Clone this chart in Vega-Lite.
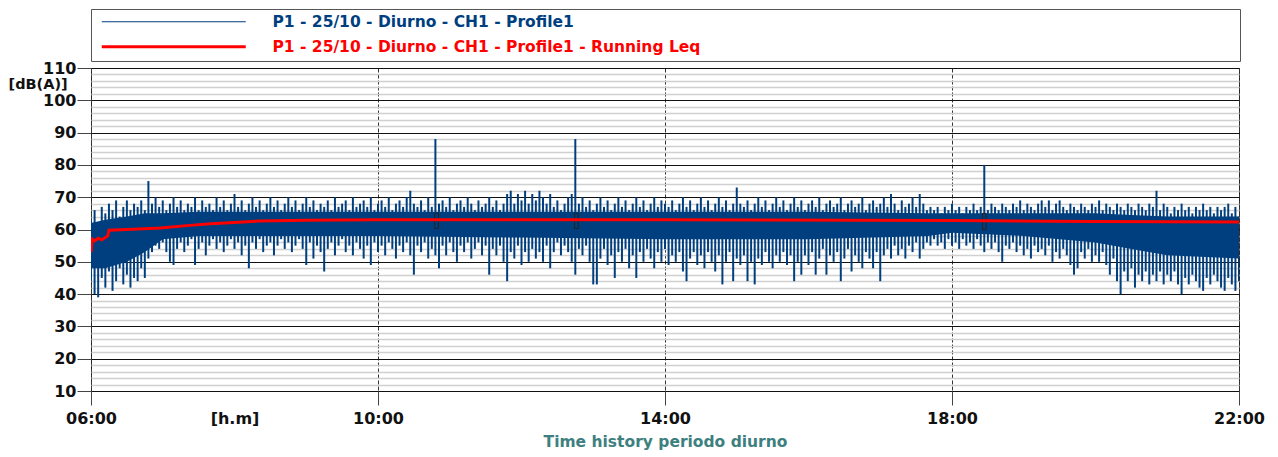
{
"$schema": "https://vega.github.io/schema/vega-lite/v6.json",
"width": 1148, "height": 323,
"autosize": "none",
"padding": {"left": 91, "top": 68, "right": 39, "bottom": 66},
"background": "white",
"config": {"view": {"stroke": "#222", "strokeWidth": 1}, "font": "DejaVu Sans"},
"datasets": {
"core": [{"m":360,"clo":48,"chi":62},{"m":372,"clo":48,"chi":63},{"m":390,"clo":50,"chi":64},{"m":405,"clo":53,"chi":65},{"m":420,"clo":57,"chi":65},{"m":450,"clo":58,"chi":65.5},{"m":600,"clo":58,"chi":65.5},{"m":720,"clo":57.5,"chi":65.5},{"m":840,"clo":57,"chi":65.5},{"m":960,"clo":57,"chi":65.5},{"m":1060,"clo":58,"chi":65},{"m":1080,"clo":59,"chi":65},{"m":1140,"clo":58,"chi":65},{"m":1200,"clo":56,"chi":65},{"m":1230,"clo":54,"chi":64.5},{"m":1260,"clo":52,"chi":64},{"m":1320,"clo":51,"chi":64}],
"leq": [{"m":360,"leq":53},{"m":361,"leq":57},{"m":363,"leq":56.5},{"m":366,"leq":57.3},{"m":369,"leq":56.8},{"m":372,"leq":57.5},{"m":374,"leq":58},{"m":375,"leq":59.8},{"m":390,"leq":60},{"m":418,"leq":60.5},{"m":440,"leq":61.2},{"m":460,"leq":61.8},{"m":480,"leq":62.2},{"m":500,"leq":62.6},{"m":540,"leq":62.9},{"m":600,"leq":63},{"m":840,"leq":63},{"m":1080,"leq":62.8},{"m":1200,"leq":62.5},{"m":1320,"leq":62.3}],
"marks": [{"m1":647.5,"m2":650.5,"y1":60.3,"y2":65},{"m1":764.5,"m2":767.5,"y1":60.3,"y2":65},{"m1":1105.5,"m2":1108.5,"y1":60,"y2":65}],
"env": [
{"m":360,"lo":44,"hi":63},{"m":363,"lo":40,"hi":66},{"m":366,"lo":39,"hi":62},{"m":369,"lo":45,"hi":67},{"m":372,"lo":42,"hi":65},{"m":375,"lo":47,"hi":68},{"m":378,"lo":41,"hi":66},{"m":381,"lo":44,"hi":69},{"m":384,"lo":48,"hi":64},{"m":387,"lo":43,"hi":67},
{"m":390,"lo":46,"hi":69},{"m":393,"lo":42,"hi":66},{"m":396,"lo":45,"hi":68},{"m":399,"lo":44,"hi":67},{"m":402,"lo":48,"hi":69},{"m":405,"lo":45,"hi":66},{"m":408,"lo":51,"hi":75},{"m":411,"lo":53,"hi":68},{"m":414,"lo":55,"hi":70},{"m":417,"lo":54,"hi":67},
{"m":420,"lo":56,"hi":69},{"m":423,"lo":53,"hi":66},{"m":426,"lo":50,"hi":68},{"m":429,"lo":49,"hi":70},{"m":432,"lo":54,"hi":67},{"m":435,"lo":56,"hi":69},{"m":438,"lo":53,"hi":66},{"m":441,"lo":55,"hi":68},{"m":444,"lo":57,"hi":67},{"m":447,"lo":49,"hi":70},
{"m":450,"lo":54,"hi":66},{"m":453,"lo":56,"hi":69},{"m":456,"lo":52,"hi":67},{"m":459,"lo":55,"hi":68},{"m":462,"lo":57,"hi":66},{"m":465,"lo":54,"hi":70},{"m":468,"lo":56,"hi":67},{"m":471,"lo":53,"hi":69},{"m":474,"lo":55,"hi":66},{"m":477,"lo":57,"hi":68},
{"m":480,"lo":54,"hi":71},{"m":483,"lo":56,"hi":67},{"m":486,"lo":52,"hi":69},{"m":489,"lo":55,"hi":66},{"m":492,"lo":48,"hi":68},{"m":495,"lo":56,"hi":70},{"m":498,"lo":54,"hi":67},{"m":501,"lo":57,"hi":69},{"m":504,"lo":53,"hi":66},{"m":507,"lo":55,"hi":68},
{"m":510,"lo":56,"hi":70},{"m":513,"lo":52,"hi":67},{"m":516,"lo":55,"hi":69},{"m":519,"lo":57,"hi":66},{"m":522,"lo":54,"hi":68},{"m":525,"lo":56,"hi":70},{"m":528,"lo":53,"hi":67},{"m":531,"lo":55,"hi":69},{"m":534,"lo":57,"hi":66},{"m":537,"lo":54,"hi":68},
{"m":540,"lo":49,"hi":70},{"m":543,"lo":56,"hi":67},{"m":546,"lo":51,"hi":69},{"m":549,"lo":55,"hi":66},{"m":552,"lo":53,"hi":68},{"m":555,"lo":47,"hi":67},{"m":558,"lo":54,"hi":69},{"m":561,"lo":56,"hi":66},{"m":564,"lo":52,"hi":70},{"m":567,"lo":55,"hi":67},
{"m":570,"lo":57,"hi":68},{"m":573,"lo":53,"hi":69},{"m":576,"lo":55,"hi":66},{"m":579,"lo":52,"hi":70},{"m":582,"lo":56,"hi":67},{"m":585,"lo":54,"hi":68},{"m":588,"lo":51,"hi":69},{"m":591,"lo":55,"hi":67},{"m":594,"lo":49,"hi":70},{"m":597,"lo":56,"hi":66},
{"m":600,"lo":53,"hi":68},{"m":603,"lo":55,"hi":69},{"m":606,"lo":52,"hi":67},{"m":609,"lo":56,"hi":70},{"m":612,"lo":54,"hi":66},{"m":615,"lo":51,"hi":68},{"m":618,"lo":55,"hi":69},{"m":621,"lo":53,"hi":67},{"m":624,"lo":56,"hi":70},{"m":627,"lo":52,"hi":72},
{"m":630,"lo":46,"hi":68},{"m":633,"lo":55,"hi":67},{"m":636,"lo":53,"hi":69},{"m":639,"lo":56,"hi":66},{"m":642,"lo":51,"hi":70},{"m":645,"lo":54,"hi":67},{"m":648,"lo":52,"hi":88},{"m":651,"lo":48,"hi":68},{"m":654,"lo":55,"hi":69},{"m":657,"lo":52,"hi":67},
{"m":660,"lo":56,"hi":70},{"m":663,"lo":53,"hi":66},{"m":666,"lo":50,"hi":68},{"m":669,"lo":55,"hi":69},{"m":672,"lo":53,"hi":67},{"m":675,"lo":56,"hi":70},{"m":678,"lo":51,"hi":68},{"m":681,"lo":54,"hi":66},{"m":684,"lo":56,"hi":69},{"m":687,"lo":52,"hi":67},
{"m":690,"lo":55,"hi":68},{"m":693,"lo":46,"hi":70},{"m":696,"lo":54,"hi":67},{"m":699,"lo":52,"hi":69},{"m":702,"lo":55,"hi":66},{"m":705,"lo":50,"hi":68},{"m":708,"lo":44,"hi":71},{"m":711,"lo":53,"hi":72},{"m":714,"lo":51,"hi":68},{"m":717,"lo":55,"hi":71},
{"m":720,"lo":49,"hi":69},{"m":723,"lo":53,"hi":72},{"m":726,"lo":50,"hi":68},{"m":729,"lo":54,"hi":71},{"m":732,"lo":51,"hi":69},{"m":735,"lo":53,"hi":72},{"m":738,"lo":50,"hi":70},{"m":741,"lo":55,"hi":68},{"m":744,"lo":48,"hi":71},{"m":747,"lo":53,"hi":67},
{"m":750,"lo":56,"hi":69},{"m":753,"lo":52,"hi":66},{"m":756,"lo":55,"hi":68},{"m":759,"lo":53,"hi":70},{"m":762,"lo":50,"hi":71},{"m":765,"lo":46,"hi":88},{"m":768,"lo":54,"hi":68},{"m":771,"lo":52,"hi":70},{"m":774,"lo":55,"hi":67},{"m":777,"lo":50,"hi":69},
{"m":780,"lo":43,"hi":66},{"m":783,"lo":43,"hi":68},{"m":786,"lo":51,"hi":70},{"m":789,"lo":54,"hi":67},{"m":792,"lo":49,"hi":69},{"m":795,"lo":52,"hi":66},{"m":798,"lo":45,"hi":68},{"m":801,"lo":53,"hi":70},{"m":804,"lo":50,"hi":67},{"m":807,"lo":54,"hi":69},
{"m":810,"lo":48,"hi":66},{"m":813,"lo":52,"hi":68},{"m":816,"lo":45,"hi":70},{"m":819,"lo":53,"hi":67},{"m":822,"lo":50,"hi":69},{"m":825,"lo":54,"hi":66},{"m":828,"lo":51,"hi":68},{"m":831,"lo":48,"hi":70},{"m":834,"lo":53,"hi":67},{"m":837,"lo":50,"hi":69},
{"m":840,"lo":54,"hi":68},{"m":843,"lo":49,"hi":67},{"m":846,"lo":52,"hi":69},{"m":849,"lo":50,"hi":66},{"m":852,"lo":53,"hi":68},{"m":855,"lo":47,"hi":70},{"m":858,"lo":44,"hi":67},{"m":861,"lo":51,"hi":69},{"m":864,"lo":53,"hi":66},{"m":867,"lo":49,"hi":68},
{"m":870,"lo":52,"hi":70},{"m":873,"lo":48,"hi":67},{"m":876,"lo":53,"hi":69},{"m":879,"lo":50,"hi":66},{"m":882,"lo":47,"hi":68},{"m":885,"lo":52,"hi":70},{"m":888,"lo":43,"hi":67},{"m":891,"lo":50,"hi":69},{"m":894,"lo":53,"hi":66},{"m":897,"lo":44,"hi":68},
{"m":900,"lo":51,"hi":73},{"m":903,"lo":49,"hi":68},{"m":906,"lo":52,"hi":67},{"m":909,"lo":44,"hi":69},{"m":912,"lo":50,"hi":66},{"m":915,"lo":43,"hi":68},{"m":918,"lo":51,"hi":70},{"m":921,"lo":49,"hi":67},{"m":924,"lo":53,"hi":69},{"m":927,"lo":50,"hi":66},
{"m":930,"lo":48,"hi":68},{"m":933,"lo":52,"hi":70},{"m":936,"lo":50,"hi":67},{"m":939,"lo":53,"hi":69},{"m":942,"lo":49,"hi":66},{"m":945,"lo":52,"hi":68},{"m":948,"lo":44,"hi":70},{"m":951,"lo":50,"hi":67},{"m":954,"lo":46,"hi":69},{"m":957,"lo":52,"hi":66},
{"m":960,"lo":49,"hi":68},{"m":963,"lo":53,"hi":69},{"m":966,"lo":46,"hi":67},{"m":969,"lo":51,"hi":70},{"m":972,"lo":54,"hi":66},{"m":975,"lo":46,"hi":68},{"m":978,"lo":52,"hi":69},{"m":981,"lo":50,"hi":67},{"m":984,"lo":53,"hi":68},{"m":987,"lo":44,"hi":70},
{"m":990,"lo":51,"hi":66},{"m":993,"lo":54,"hi":68},{"m":996,"lo":47,"hi":69},{"m":999,"lo":52,"hi":67},{"m":1002,"lo":50,"hi":68},{"m":1005,"lo":48,"hi":70},{"m":1008,"lo":53,"hi":66},{"m":1011,"lo":51,"hi":68},{"m":1014,"lo":48,"hi":69},{"m":1017,"lo":53,"hi":67},
{"m":1020,"lo":44,"hi":68},{"m":1023,"lo":52,"hi":70},{"m":1026,"lo":54,"hi":67},{"m":1029,"lo":51,"hi":71},{"m":1032,"lo":55,"hi":68},{"m":1035,"lo":52,"hi":66},{"m":1038,"lo":54,"hi":69},{"m":1041,"lo":51,"hi":67},{"m":1044,"lo":55,"hi":68},{"m":1047,"lo":53,"hi":70},
{"m":1050,"lo":56,"hi":67},{"m":1053,"lo":51,"hi":71},{"m":1056,"lo":54,"hi":68},{"m":1059,"lo":56,"hi":66},{"m":1062,"lo":55,"hi":67},{"m":1065,"lo":57,"hi":66},{"m":1068,"lo":55,"hi":67},{"m":1071,"lo":56,"hi":65},{"m":1074,"lo":54,"hi":67},{"m":1077,"lo":57,"hi":66},
{"m":1080,"lo":55,"hi":68},{"m":1083,"lo":56,"hi":66},{"m":1086,"lo":54,"hi":67},{"m":1089,"lo":57,"hi":65},{"m":1092,"lo":55,"hi":67},{"m":1095,"lo":56,"hi":66},{"m":1098,"lo":54,"hi":68},{"m":1101,"lo":57,"hi":66},{"m":1104,"lo":55,"hi":67},{"m":1107,"lo":53,"hi":80},
{"m":1110,"lo":56,"hi":66},{"m":1113,"lo":54,"hi":68},{"m":1116,"lo":56,"hi":67},{"m":1119,"lo":53,"hi":66},{"m":1122,"lo":50,"hi":68},{"m":1125,"lo":55,"hi":67},{"m":1128,"lo":54,"hi":66},{"m":1131,"lo":56,"hi":68},{"m":1134,"lo":53,"hi":67},{"m":1137,"lo":55,"hi":69},
{"m":1140,"lo":52,"hi":66},{"m":1143,"lo":54,"hi":68},{"m":1146,"lo":51,"hi":67},{"m":1149,"lo":55,"hi":66},{"m":1152,"lo":53,"hi":68},{"m":1155,"lo":54,"hi":69},{"m":1158,"lo":52,"hi":67},{"m":1161,"lo":55,"hi":69},{"m":1164,"lo":50,"hi":66},{"m":1167,"lo":53,"hi":68},
{"m":1170,"lo":51,"hi":69},{"m":1173,"lo":54,"hi":67},{"m":1176,"lo":52,"hi":66},{"m":1179,"lo":49,"hi":68},{"m":1182,"lo":46,"hi":67},{"m":1185,"lo":48,"hi":66},{"m":1188,"lo":53,"hi":68},{"m":1191,"lo":51,"hi":67},{"m":1194,"lo":54,"hi":66},{"m":1197,"lo":50,"hi":68},
{"m":1200,"lo":52,"hi":67},{"m":1203,"lo":50,"hi":69},{"m":1206,"lo":53,"hi":66},{"m":1209,"lo":49,"hi":68},{"m":1212,"lo":46,"hi":67},{"m":1215,"lo":51,"hi":66},{"m":1218,"lo":44,"hi":68},{"m":1221,"lo":40,"hi":67},{"m":1224,"lo":47,"hi":66},{"m":1227,"lo":44,"hi":68},
{"m":1230,"lo":48,"hi":67},{"m":1233,"lo":42,"hi":66},{"m":1236,"lo":46,"hi":68},{"m":1239,"lo":44,"hi":67},{"m":1242,"lo":47,"hi":66},{"m":1245,"lo":43,"hi":68},{"m":1248,"lo":46,"hi":67},{"m":1251,"lo":44,"hi":72},{"m":1254,"lo":47,"hi":66},{"m":1257,"lo":43,"hi":68},
{"m":1260,"lo":46,"hi":67},{"m":1263,"lo":44,"hi":65},{"m":1266,"lo":47,"hi":67},{"m":1269,"lo":43,"hi":66},{"m":1272,"lo":40,"hi":68},{"m":1275,"lo":45,"hi":66},{"m":1278,"lo":43,"hi":67},{"m":1281,"lo":46,"hi":65},{"m":1284,"lo":44,"hi":67},{"m":1287,"lo":42,"hi":66},
{"m":1290,"lo":41,"hi":68},{"m":1293,"lo":45,"hi":66},{"m":1296,"lo":43,"hi":67},{"m":1299,"lo":46,"hi":65},{"m":1302,"lo":44,"hi":67},{"m":1305,"lo":42,"hi":66},{"m":1308,"lo":41,"hi":67},{"m":1311,"lo":45,"hi":68},{"m":1314,"lo":43,"hi":65},{"m":1317,"lo":41,"hi":67},
{"m":1320,"lo":44,"hi":64}
]
},
"layer": [
{
"data": {"name": "core"},
"mark": {"type": "area", "color": "#003f7f", "clip": true},
"encoding": {
"x": {"field": "m", "type": "quantitative", "scale": {"domain": [360, 1320], "nice": false, "zero": false},
"axis": {"values": [360, 480, 600, 840, 1080, 1320], "tickCount": 20,
"labelExpr": "datum.value == 480 ? '[h.m]' : (datum.value < 600 ? '0' : '') + floor(datum.value / 60) + ':00'",
"title": "Time history periodo diurno", "titleColor": "#3e8080", "titleFont": "DejaVu Sans", "titleFontSize": 15.5, "titleFontWeight": "bold", "titlePadding": 8,
"labelFont": "DejaVu Sans", "labelFontSize": 16, "labelFontWeight": "bold", "labelColor": "#111", "labelPadding": 5, "labelFlush": false, "labelOverlap": false,
"tickSize": 14, "tickColor": "#444", "tickWidth": 1,
"tickOpacity": {"condition": {"test": "datum.value == 480", "value": 0}, "value": 1},
"grid": true, "gridColor": "#333", "gridDash": [4, 2], "gridWidth": 1,
"gridOpacity": {"condition": {"test": "datum.value == 480", "value": 0}, "value": 1},
"domain": false}},
"y": {"field": "clo", "type": "quantitative", "scale": {"domain": [10, 110], "nice": false, "zero": false},
"axis": {"values": [10,12,14,16,18,20,22,24,26,28,30,32,34,36,38,40,42,44,46,48,50,52,54,56,58,60,62,64,66,68,70,72,74,76,78,80,82,84,86,88,90,92,94,96,98,100,102,104,106,108,110],
"tickCount": 100,
"labelExpr": "datum.value % 10 == 0 ? datum.label : ''",
"title": "[dB(A)]", "titleAngle": 0, "titleX": -83, "titleY": 16, "titleAlign": "left", "titleBaseline": "middle",
"titleFont": "DejaVu Sans", "titleFontSize": 14.5, "titleFontWeight": "bold", "titleColor": "#111",
"labelFont": "DejaVu Sans", "labelFontSize": 16, "labelFontWeight": "bold", "labelColor": "#111", "labelPadding": 1, "labelFlush": false, "labelOverlap": false,
"tickSize": 14, "tickColor": "#444",
"tickOpacity": {"condition": {"test": "datum.value % 10 == 0", "value": 1}, "value": 0},
"grid": true,
"gridColor": {"condition": {"test": "datum.value % 10 == 0", "value": "#111"}, "value": "#d0d0d0"},
"gridWidth": {"condition": {"test": "datum.value % 10 == 0", "value": 1}, "value": 1.6},
"domain": false}},
"y2": {"field": "chi"}
}
},
{
"data": {"name": "env"},
"mark": {"type": "rule", "strokeWidth": 2, "clip": true},
"encoding": {
"x": {"field": "m", "type": "quantitative"},
"y": {"field": "lo", "type": "quantitative"},
"y2": {"field": "hi"},
"color": {"datum": "P1 - 25/10 - Diurno - CH1 - Profile1", "type": "nominal",
"scale": {"domain": ["P1 - 25/10 - Diurno - CH1 - Profile1", "P1 - 25/10 - Diurno - CH1 - Profile1 - Running Leq"], "range": ["#003f7f", "#ff0000"]},
"legend": {"orient": "none", "legendX": 0, "legendY": -59, "direction": "vertical", "title": null,
"symbolType": "M-14.4,0H14.4", "symbolSize": 100, "symbolOffset": 70, "rowPadding": 8, "padding": 5,
"labelFont": "DejaVu Sans", "labelFontSize": 15.5, "labelFontWeight": "bold", "labelLimit": 0, "labelOffset": 91,
"strokeColor": "#555", "fillColor": "white",
"encode": {
"symbols": {"update": {"strokeWidth": {"signal": "datum.value == 'P1 - 25/10 - Diurno - CH1 - Profile1 - Running Leq' ? 3 : 1"}}},
"labels": {"update": {
"text": {"signal": "pad(datum.label, 149, '\u00a0', 'right') + '\u200b'"},
"fill": {"signal": "datum.value == 'P1 - 25/10 - Diurno - CH1 - Profile1 - Running Leq' ? '#ff0000' : '#003f7f'"}}}
}}}
}
},
{
"data": {"name": "marks"},
"mark": {"type": "rect", "filled": false, "color": "#222", "strokeWidth": 1, "clip": true},
"encoding": {
"x": {"field": "m1", "type": "quantitative"},
"x2": {"field": "m2"},
"y": {"field": "y1", "type": "quantitative"},
"y2": {"field": "y2"}
}
},
{
"data": {"name": "leq"},
"mark": {"type": "line", "strokeWidth": 3, "clip": true},
"encoding": {
"x": {"field": "m", "type": "quantitative"},
"y": {"field": "leq", "type": "quantitative"},
"color": {"datum": "P1 - 25/10 - Diurno - CH1 - Profile1 - Running Leq", "type": "nominal"}
}
}
]
}
